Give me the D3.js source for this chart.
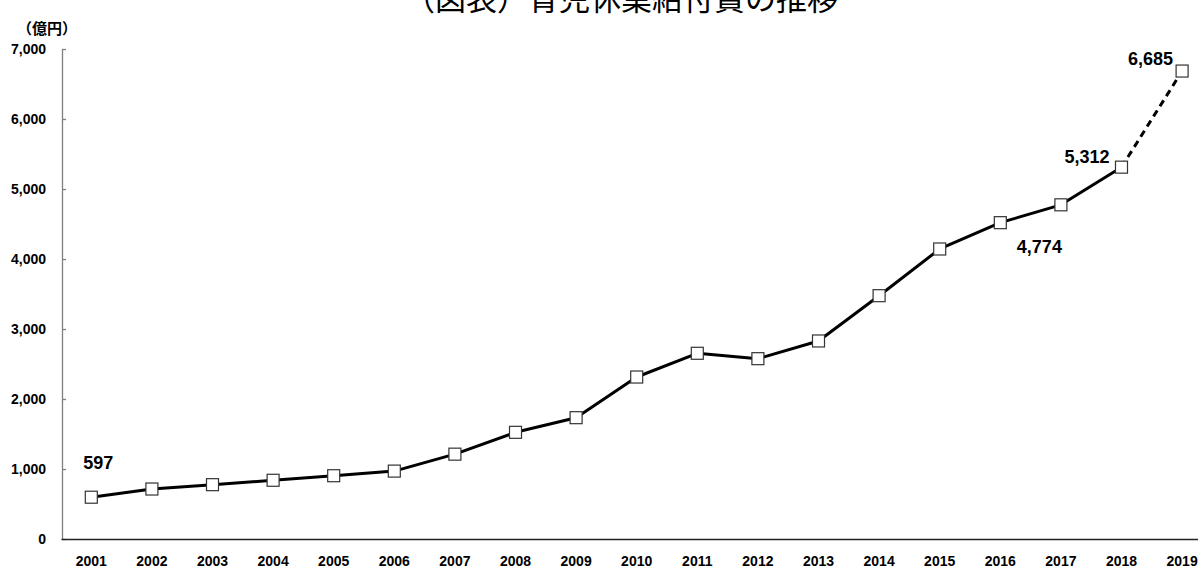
<!DOCTYPE html>
<html>
<head>
<meta charset="utf-8">
<script src="https://cdn.jsdelivr.net/npm/d3@7"></script>
<style>
  html, body { margin: 0; padding: 0; background: #fff; }
  svg { display: block; }
  .tick text, .vlabel { font-family: "Liberation Sans", Arial, sans-serif; font-weight: bold; fill: #000; }
</style>
</head>
<body>
<svg id="chart" width="1198" height="567"></svg>
<script>
// 育児休業給付費（億円）, 年度
const years = ["2001","2002","2003","2004","2005","2006","2007","2008","2009","2010",
               "2011","2012","2013","2014","2015","2016","2017","2018","2019"];
const benefits = [597, 714, 776, 839, 904, 970, 1212, 1524, 1733, 2314,
                  2653, 2576, 2829, 3476, 4143, 4519, 4774, 5312, 6685];
const yTicks = [0, 1000, 2000, 3000, 4000, 5000, 6000, 7000];
const labeledYears = ["2001", "2017", "2018", "2019"];
const estimateFrom = "2018"; // 2019 is a budget figure, drawn dashed

const svg = d3.select("#chart");

const x = d3.scaleBand().domain(years).range([61, 61 + 19 * 60.6]);
const y = d3.scaleLinear().domain([0, 7000]).range([539, 49]);
const cx = d => x(d) + x.bandwidth() / 2;

// title
svg.append("text")
  .attr("x", 404).attr("y", 10)
  .style("font-family", "'Noto Sans CJK JP', sans-serif")
  .style("font-size", "31px")
  .text("（図表）育児休業給付費の推移");

// unit
svg.append("text")
  .attr("x", 17).attr("y", 34)
  .style("font-family", "'Noto Sans CJK JP', sans-serif")
  .style("font-size", "15px").style("font-weight", "bold")
  .text("（億円）");

// y axis
const yAxis = svg.append("g")
  .attr("transform", "translate(62,0)")
  .call(d3.axisLeft(y).tickValues(yTicks).tickFormat(d3.format(","))
    .tickSizeInner(-4).tickSizeOuter(0).tickPadding(16));
yAxis.select(".domain").attr("stroke", "#7f7f7f").attr("stroke-width", 1.3);
yAxis.selectAll(".tick line").attr("stroke", "#7f7f7f").attr("stroke-width", 1.3);
yAxis.selectAll(".tick text").style("font-size", "14px");

// x axis
const xAxis = svg.append("g")
  .attr("transform", "translate(0,539)")
  .call(d3.axisBottom(x).tickSize(0).tickSizeOuter(0).tickPadding(17));
xAxis.select(".domain").attr("stroke", "#222").attr("stroke-width", 1.3);
xAxis.selectAll(".tick text").style("font-size", "14px");

// line: solid for actuals, dashed for the final budget step
const data = years.map((yr, i) => ({ yr, v: benefits[i] }));
const split = years.indexOf(estimateFrom);
const line = d3.line().x(d => cx(d.yr)).y(d => y(d.v));

svg.append("path")
  .datum(data.slice(0, split + 1))
  .attr("d", line)
  .attr("fill", "none").attr("stroke", "#000").attr("stroke-width", 3)
  .attr("stroke-linejoin", "round");

svg.append("path")
  .datum(data.slice(split))
  .attr("d", line)
  .attr("fill", "none").attr("stroke", "#000").attr("stroke-width", 3)
  .attr("stroke-dasharray", "7,5");

// square markers
const S = 12;
svg.append("g").selectAll("rect")
  .data(data).join("rect")
  .attr("x", d => cx(d.yr) - S / 2)
  .attr("y", d => y(d.v) - S / 2)
  .attr("width", S).attr("height", S)
  .attr("fill", "#fff").attr("stroke", "#333").attr("stroke-width", 1.2);

// value labels
const place = {
  "2001": { dx: -8,  dy: -28, anchor: "start" },
  "2017": { dx: 1,   dy: 48,  anchor: "end" },
  "2018": { dx: -12, dy: -4,  anchor: "end" },
  "2019": { dx: -9,  dy: -6,  anchor: "end" }
};
svg.append("g").selectAll("text")
  .data(data.filter(d => labeledYears.includes(d.yr))).join("text")
  .attr("class", "vlabel")
  .attr("x", d => cx(d.yr) + place[d.yr].dx)
  .attr("y", d => y(d.v) + place[d.yr].dy)
  .attr("text-anchor", d => place[d.yr].anchor)
  .style("font-size", "18px")
  .text(d => d3.format(",")(d.v));
</script>
</body>
</html>
